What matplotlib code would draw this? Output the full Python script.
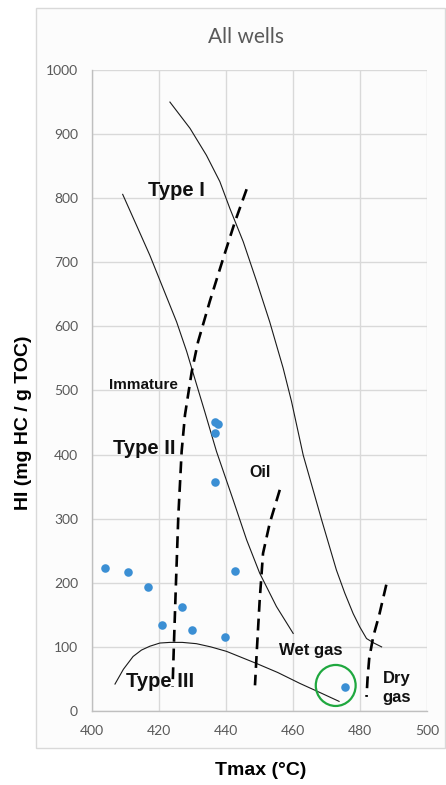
import matplotlib.pyplot as plt
from matplotlib.patches import Ellipse, Rectangle

# Sample points (Tmax in degC, HI in mg HC / g TOC)
tmax = [404, 410.7, 416.7, 420.8, 426.8, 429.9, 439.8, 442.8, 436.7, 437.6, 436.7, 436.7, 475.6]
hi = [223, 217, 194, 134, 162, 126, 116, 219, 451, 447, 434, 357, 38]

# Kerogen type boundaries
typeOneT = [423.3, 429.3, 434.2, 438.2, 441.2, 445.2, 449.2, 453.1, 457.1, 459.6, 463.1,
	468.6, 473.0, 475.5, 478.0, 480.0, 482.0, 484.2, 486.5]
typeOneHI = [950, 909, 867, 826, 784, 732, 670, 607, 535, 483, 399,
	298, 220, 184, 152, 131, 113, 106, 100]

typeTwoT = [409.2, 413.3, 417.3, 421.3, 425.3, 428.3, 430.7, 433.7, 437.2, 442.2, 446.2,
	450.1, 455.1, 460.1]
typeTwoHI = [806, 758, 711, 659, 607, 561, 519, 467, 405, 329, 267,
	215, 163, 121]

typeThreeT = [406.9, 409.4, 412.3, 414.8, 417.3, 420.3, 423.3, 427.0, 431.2, 435.5, 440.2,
	449.2, 455.5, 462.1, 468.0, 473.8]
typeThreeHI = [42, 65, 85, 95, 101, 106, 107, 107, 105, 100, 93,
	74, 60, 43, 29, 15]

# Maturity zone boundaries
immatureOilT = [446.2, 442.7, 439.2, 435.2, 431.7, 429.8, 427.8, 426.8, 425.8, 425.1, 424.5, 424.1]
immatureOilHI = [814, 763, 706, 639, 576, 529, 462, 405, 303, 199, 105, 38]

oilWetGasT = [456.1, 453.1, 451.1, 450.1, 449.2, 448.7]
oilWetGasHI = [345, 293, 246, 173, 90, 40]

wetDryGasT = [487.9, 485.8, 484.0, 482.8, 482.3, 482.0]
wetDryGasHI = [197, 150, 116, 82, 50, 22]

xTicks = [400, 420, 440, 460, 480, 500]
yTicks = [0, 100, 200, 300, 400, 500, 600, 700, 800, 900, 1000]

boldFont = 'Liberation Sans'
tickFont = 'Lato'
gridColor = '#d9d9d9'
textGray = '#595959'


def drawFrame(fig):
	frame = Rectangle((0.0807, 0.0471), 0.917, 0.943, transform=fig.transFigure,
		facecolor='#fcfcfc', edgecolor=gridColor, linewidth=1.0, zorder=-10)
	fig.patches.append(frame)


def main():
	fig = plt.figure(figsize=(4.46, 7.85), dpi=100)
	fig.patch.set_facecolor('white')
	drawFrame(fig)

	ax = fig.add_axes([0.206, 0.0943, 0.751, 0.8165])
	ax.set_facecolor('#fcfcfc')
	ax.set_xlim(400, 500)
	ax.set_ylim(0, 1000)
	ax.set_xticks(xTicks)
	ax.set_yticks(yTicks)
	ax.grid(True, color=gridColor, linewidth=1.0)
	ax.set_axisbelow(True)
	for side in ['top', 'right']:
		ax.spines[side].set_visible(False)
	for side in ['left', 'bottom']:
		ax.spines[side].set_color('#bfbfbf')
		ax.spines[side].set_linewidth(1.0)
	ax.tick_params(length=0, labelsize=10, labelcolor=textGray, pad=10)
	for label in ax.get_xticklabels() + ax.get_yticklabels():
		label.set_fontfamily(tickFont)

	# thin kerogen curves
	for xs, ys in [(typeOneT, typeOneHI), (typeTwoT, typeTwoHI), (typeThreeT, typeThreeHI)]:
		ax.plot(xs, ys, color='#1a1a1a', linewidth=0.8, solid_joinstyle='round')

	# dashed maturity limits
	for xs, ys in [(immatureOilT, immatureOilHI), (oilWetGasT, oilWetGasHI), (wetDryGasT, wetDryGasHI)]:
		ax.plot(xs, ys, color='black', linewidth=1.9, dashes=(4.5, 2.6))

	ax.scatter(tmax, hi, s=38, color='#3b8fd4', zorder=5, linewidths=0)

	ring = Ellipse((472.8, 39.8), 11.9, 64, fill=False, edgecolor='#1fa83f', linewidth=1.6, zorder=6)
	ax.add_patch(ring)

	labels = [
		('Type I', 416.7, 803, 14.5),
		('Immature', 405.2, 503, 11),
		('Type II', 406.4, 401, 14.5),
		('Oil', 446.9, 365, 11.5),
		('Wet gas', 455.9, 88, 12),
		('Type III', 410.1, 38, 14.5),
		('Dry', 486.8, 43, 12),
		('gas', 486.8, 14.5, 12),
	]
	for text, x, y, size in labels:
		ax.text(x, y, text, fontsize=size, fontweight='bold', fontfamily=boldFont,
			ha='left', va='baseline', color='#111111', zorder=7)

	fig.text(0.552, 0.953, 'All wells', fontsize=15, fontfamily=tickFont, color=textGray,
		ha='center', va='center')
	fig.text(0.052, 0.462, 'HI (mg HC / g TOC)', rotation=90, fontsize=14, fontweight='bold',
		fontfamily=boldFont, ha='center', va='center')
	fig.text(0.585, 0.019, 'Tmax (°C)', fontsize=14, fontweight='bold',
		fontfamily=boldFont, ha='center', va='center')

	plt.savefig('out.png', dpi=100)


if __name__ == '__main__':
	main()
